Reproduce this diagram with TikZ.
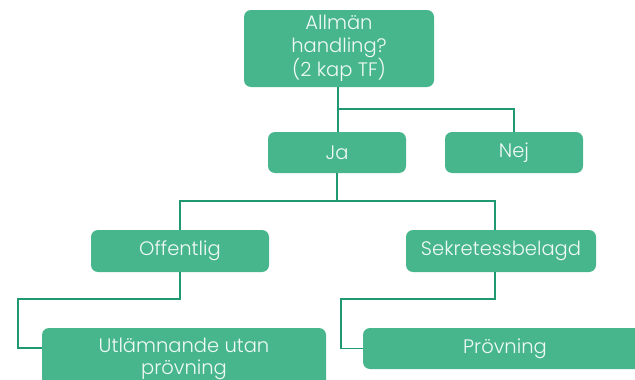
\documentclass[tikz,border=0pt]{standalone}
\usepackage{fontspec}
\setmainfont{Poppins}[UprightFont=* Light]
\definecolor{boxgreen}{RGB}{72,182,140}
\definecolor{linegreen}{RGB}{32,152,114}
\definecolor{boxtext}{RGB}{240,250,245}
\begin{document}
\begin{tikzpicture}[x=1pt,y=-1pt,
  box/.style={fill=boxgreen,rounded corners=7pt,text=boxtext,align=center,
    inner sep=0pt,font=\fontsize{19.5}{22.5}\selectfont},
  link/.style={draw=linegreen,line width=1.8pt}]
\useasboundingbox (0,0) rectangle (635,380);
\clip (0,0) rectangle (635,380);

% boxes
\node[box,minimum width=190pt,minimum height=77pt] (q) at (339,48.5) {Allmän\\handling?\\(2 kap TF)};
\node[box,minimum width=138pt,minimum height=41pt] (ja) at (337,152.5) {Ja};
\node[box,minimum width=138pt,minimum height=41pt] (nej) at (514,152.5) {Nej};
\node[box,minimum width=178pt,minimum height=42pt] (off) at (180,251) {Offentlig};
\node[box,minimum width=190pt,minimum height=42pt] (sek) at (501,251) {Sekretessbelagd};
\node[box,minimum width=284pt,minimum height=62pt] (utl) at (184,359) {Utlämnande utan\\prövning};
\node[box,minimum width=284pt,minimum height=41pt] (prov) at (505,348.5) {Prövning};

% branch points
\coordinate (qsplit) at (338,109);
\coordinate (jasplit) at (337,201);
\coordinate (offbend) at (180,299);
\coordinate (sekbend) at (495,299);

% connectors
\path[link] (q.south -| qsplit) -- (qsplit) -- (qsplit -| nej.north) -- (nej.north);
\path[link] (qsplit) -- (ja.north -| qsplit);
\path[link] (ja.south) -- (jasplit);
\path[link] (off.north) -- (jasplit -| off.north) -- (jasplit -| sekbend) -- (sek.north -| sekbend);
\path[link] (off.south) -- (offbend) -- (18,299) -- (18,348) -- (utl.west |- 0,348);
\path[link] (sek.south -| sekbend) -- (sekbend) -- (341,299) -- (341,348.5) -- (prov.west);
\end{tikzpicture}
\end{document}
